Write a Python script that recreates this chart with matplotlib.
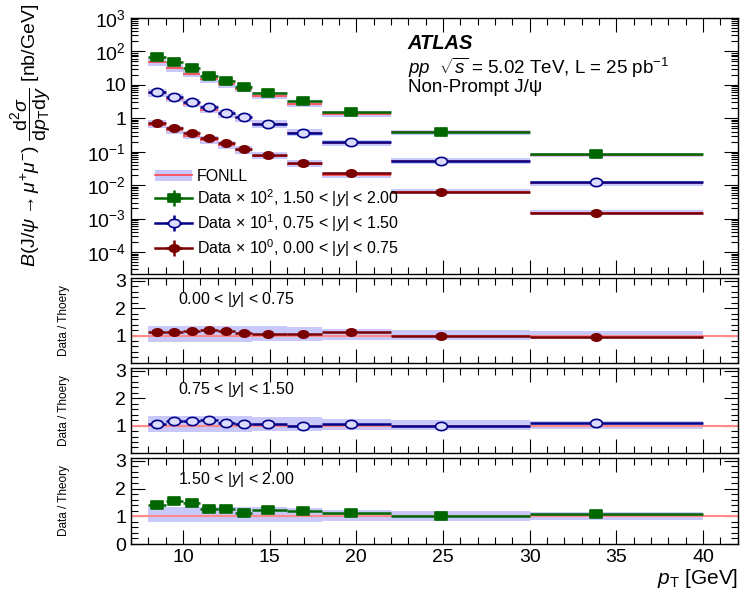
import numpy as np
import matplotlib
matplotlib.use("Agg")
import matplotlib.pyplot as plt
from matplotlib import font_manager
from matplotlib.path import Path
from matplotlib.patches import Patch
from matplotlib.lines import Line2D
from matplotlib.ticker import MultipleLocator, FixedLocator, FuncFormatter, NullFormatter

plt.rcParams['font.family'] = ['Liberation Sans', 'DejaVu Sans']
plt.rcParams['mathtext.fontset'] = 'custom'
plt.rcParams['mathtext.rm'] = 'Liberation Sans'
plt.rcParams['mathtext.it'] = 'Liberation Sans:italic'
plt.rcParams['mathtext.bf'] = 'Liberation Sans:bold'

# ---- pT binning (GeV) and mean pT of each bin ----
bin_lo = np.array([8, 9, 10, 11, 12, 13, 14, 16, 18, 22, 30])
bin_hi = np.array([9, 10, 11, 12, 13, 14, 16, 18, 22, 30, 40])
pt_mean = np.array([8.5, 9.5, 10.5, 11.5, 12.5, 13.5, 14.9, 16.9, 19.7, 24.9, 33.8])

# ---- measured B x d2sigma/dpTdy [nb/GeV] per rapidity slice ----
xsec_y000_075 = np.array([0.71, 0.50, 0.35, 0.26, 0.18, 0.117, 0.079, 0.045, 0.023, 0.0062, 0.00145])
xsec_y075_150 = np.array([0.60, 0.44, 0.31, 0.22, 0.145, 0.107, 0.068, 0.036, 0.019, 0.0052, 0.00123])
xsec_y150_200 = np.array([0.68, 0.48, 0.316, 0.18, 0.13, 0.085, 0.056, 0.032, 0.015, 0.0039, 0.00085])

# relative total uncertainty of the data
relerr_y000_075 = np.array([0.03, 0.03, 0.03, 0.03, 0.03, 0.03, 0.03, 0.03, 0.03, 0.04, 0.07])
relerr_y075_150 = np.array([0.03, 0.03, 0.03, 0.03, 0.03, 0.03, 0.03, 0.03, 0.03, 0.04, 0.05])
relerr_y150_200 = np.array([0.09, 0.06, 0.05, 0.04, 0.04, 0.04, 0.03, 0.03, 0.03, 0.04, 0.06])

# ---- Data / FONLL ratios ----
ratio_y000_075 = np.array([1.12, 1.13, 1.18, 1.20, 1.17, 1.08, 1.07, 1.07, 1.12, 0.97, 0.96])
ratio_y075_150 = np.array([1.06, 1.15, 1.15, 1.22, 1.09, 1.06, 1.04, 0.98, 1.04, 0.99, 1.09])
ratio_y150_200 = np.array([1.42, 1.55, 1.47, 1.25, 1.25, 1.13, 1.21, 1.18, 1.13, 1.02, 1.08])

# FONLL uncertainty band relative to its central value
fonll_up = np.array([1.35, 1.35, 1.35, 1.35, 1.35, 1.35, 1.33, 1.30, 1.23, 1.20, 1.16])
fonll_dn = np.array([0.78, 0.78, 0.78, 0.78, 0.78, 0.78, 0.80, 0.80, 0.82, 0.84, 0.86])

scale_factors = [100, 10, 1]
slice_labels = ["1.50 < |$y$| < 2.00", "0.75 < |$y$| < 1.50", "0.00 < |$y$| < 0.75"]
slice_exps = [2, 1, 0]

# decades labelled on the cross-section axis
decades = np.arange(-4, 4)

col_green = "#006600"
col_blue = "#000088"
col_red = "#7a0000"
col_band = "#c8c8fa"
col_fonll = "#ff4444"
col_unity = "#ff8a8a"
col_open_fill = "#dcdcff"

# squashed marker shapes
t = np.linspace(0, 2 * np.pi, 64)
ellipse = Path(np.column_stack([np.cos(t), 0.7 * np.sin(t)]), closed=True)
rect = Path([(-1, -0.72), (1, -0.72), (1, 0.72), (-1, 0.72), (-1, -0.72)], closed=True)

series = [
    dict(xsec=xsec_y150_200, err=relerr_y150_200, ratio=ratio_y150_200, color=col_green,
         marker=rect, mfc=col_green, ms=8.5),
    dict(xsec=xsec_y075_150, err=relerr_y075_150, ratio=ratio_y075_150, color=col_blue,
         marker=ellipse, mfc=col_open_fill, ms=8.5),
    dict(xsec=xsec_y000_075, err=relerr_y000_075, ratio=ratio_y000_075, color=col_red,
         marker=ellipse, mfc=col_red, ms=7.5),
]

fig = plt.figure(figsize=(7.4, 5.95), dpi=100)
ax_top = fig.add_axes([0.177, 0.5395, 0.820, 0.4305])
ax_r1 = fig.add_axes([0.177, 0.390, 0.820, 0.143])
ax_r2 = fig.add_axes([0.177, 0.2387, 0.820, 0.1428])
ax_r3 = fig.add_axes([0.177, 0.0857, 0.820, 0.1446])

xerr = [pt_mean - bin_lo, bin_hi - pt_mean]
widths = bin_hi - bin_lo


def draw_points(ax, y, yerr, s):
    return ax.errorbar(pt_mean, y, xerr=xerr, yerr=yerr, linestyle="none",
                       marker=s["marker"], ms=s["ms"], mfc=s["mfc"], mec=s["color"], mew=1.2,
                       ecolor=s["color"], elinewidth=1.8, capsize=0, zorder=3)


handles = []
for s, sf in zip(series, scale_factors):
    data = s["xsec"] * sf
    theory = data / s["ratio"]
    ax_top.bar(bin_lo, theory * (fonll_up - fonll_dn), bottom=theory * fonll_dn, width=widths,
               align="edge", color=col_band, linewidth=0, zorder=1)
    ax_top.hlines(theory, bin_lo, bin_hi, color=col_fonll, lw=1.2, zorder=2)
    cont = draw_points(ax_top, data, data * s["err"], s)
    handles.append((Line2D([], [], color=s["color"], lw=1.8), cont))

ax_top.set_yscale("log")
ylo, yhi = 2.2e-5, 1e3
ax_top.set_ylim(ylo, yhi)


def decade_label(v, pos):
    e = int(round(np.log10(v)))
    if e == 0:
        return "1"
    if e == 1:
        return "10"
    return r"$10^{%d}$" % e


major_vals = 10.0 ** decades
minor_vals = np.array([m * 10.0 ** e for e in range(-5, 3) for m in range(2, 10)])
minor_vals = minor_vals[(minor_vals > ylo) & (minor_vals < yhi)]
ax_top.yaxis.set_major_locator(FixedLocator(major_vals))
ax_top.yaxis.set_minor_locator(FixedLocator(minor_vals))
ax_top.yaxis.set_major_formatter(FuncFormatter(decade_label))
ax_top.yaxis.set_minor_formatter(NullFormatter())

ax_top.set_ylabel(r"$B$(J/$\psi$$\rightarrow$$\mu^{+}\mu^{-}$) $\dfrac{\mathrm{d}^{2}\sigma}{\mathrm{d}p_{\mathrm{T}}\mathrm{d}y}$ [nb/GeV]",
                  fontsize=14)
ax_top.yaxis.set_label_coords(-0.128, 0.54)

fonll_handle = (Patch(facecolor=col_band, edgecolor="none"), Line2D([], [], color=col_fonll, lw=1.2))
labels = ["FONLL"] + [r"Data $\times$ 10$^{%d}$, %s" % (e, l) for e, l in zip(slice_exps, slice_labels)]
ax_top.legend([fonll_handle] + handles, labels, loc="lower left", bbox_to_anchor=(0.04, 0.06),
              frameon=False, fontsize=11.5, borderpad=0, borderaxespad=0, labelspacing=0.2,
              handlelength=2.3, handletextpad=0.3)

ax_top.text(0.456, 0.90, "ATLAS", transform=ax_top.transAxes, fontsize=14.5,
            fontweight="bold", fontstyle="italic", va="center", ha="left")
ax_top.text(0.456, 0.805, r"$pp$  $\sqrt{s}$ = 5.02 TeV, L = 25 pb$^{-1}$", transform=ax_top.transAxes,
            fontsize=13.5, va="center", ha="left")
ax_top.text(0.456, 0.727, "Non-Prompt J/\u03c8", transform=ax_top.transAxes,
            fontsize=13.5, va="center", ha="left")

# ---- ratio panels ----
names = {f.name for f in font_manager.fontManager.ttflist}
if "Liberation Sans Narrow" in names:
    ratio_font = dict(family=["Liberation Sans Narrow", "Liberation Sans"], fontsize=10.5)
else:
    ratio_font = dict(fontsize=8.5)

ratio_axes = [ax_r1, ax_r2, ax_r3]
ratio_series = [series[2], series[1], series[0]]
ratio_texts = [slice_labels[2], slice_labels[1], slice_labels[0]]
ratio_ylabels = ["Data / Thoery", "Data / Thoery", "Data / Theory"]
ratio_majors = [[1, 2, 3], [1, 2, 3], [0, 1, 2, 3]]

for ax, s, txt, yl, mj in zip(ratio_axes, ratio_series, ratio_texts, ratio_ylabels, ratio_majors):
    ax.bar(bin_lo, fonll_up - fonll_dn, bottom=fonll_dn, width=widths, align="edge",
           color=col_band, linewidth=0, zorder=1)
    ax.axhline(1.0, color=col_unity, lw=1.5, zorder=2)
    draw_points(ax, s["ratio"], s["ratio"] * s["err"], s)
    ax.set_ylim(0, 3.1)
    ax.yaxis.set_major_locator(FixedLocator(mj))
    ax.yaxis.set_minor_locator(MultipleLocator(0.2))
    ax.text(0.077, 0.75, txt, transform=ax.transAxes, fontsize=11.5, va="center", ha="left")
    ax.set_ylabel(yl, **ratio_font)
    ax.yaxis.set_label_coords(-0.1, 0.5)

for ax in [ax_top] + ratio_axes:
    ax.set_xlim(7, 42)
    ax.xaxis.set_major_locator(MultipleLocator(5))
    ax.xaxis.set_minor_locator(MultipleLocator(1))
    ax.tick_params(which="both", direction="in", top=True, right=True, width=0.8, labelsize=14)
    ax.tick_params(which="major", length=10)
    ax.tick_params(which="minor", length=5)
    for sp in ax.spines.values():
        sp.set_linewidth(1.0)

for ax in [ax_top, ax_r1, ax_r2]:
    ax.tick_params(labelbottom=False)

ax_r3.set_xlabel(r"$p_{\mathrm{T}}$ [GeV]", fontsize=15, loc="right", labelpad=1)

fig.savefig("out.png", dpi=100)
